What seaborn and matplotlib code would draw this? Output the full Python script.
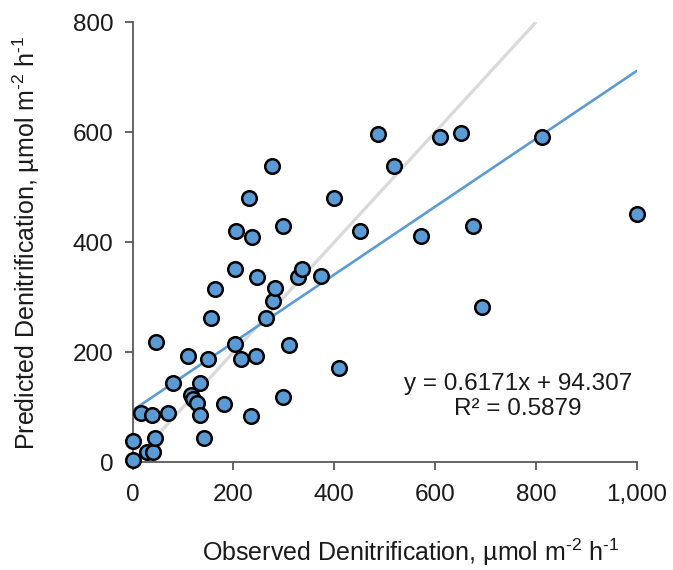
import matplotlib
matplotlib.use('Agg')
import matplotlib.pyplot as plt
import matplotlib.ticker as mticker
import seaborn as sns
import numpy as np
import pandas as pd

# observed vs predicted denitrification (umol m-2 h-1)
observed = [0, 0, 28, 41, 44, 16, 38, 70, 47, 80, 110, 115, 120, 127, 133, 133, 141,
            150, 155, 182, 204, 215, 244, 235, 264, 279, 311, 299, 410, 164, 204, 246,
            283, 328, 336, 373, 206, 237, 298, 231, 400, 276, 519, 452, 572, 486, 610,
            652, 813, 675, 693, 1000]
predicted = [5, 39, 18, 18, 45, 89, 86, 89, 219, 145, 193, 122, 115, 107, 145, 86, 44,
             188, 262, 106, 215, 188, 193, 84, 262, 294, 214, 118, 172, 315, 352, 337,
             316, 337, 352, 338, 420, 410, 429, 481, 481, 538, 538, 421, 411, 597, 592,
             599, 592, 429, 282, 452]

slope = 0.6171
intercept = 94.307
r2 = 0.5879
fit_range = [0, 1000]
one_to_one = [0, 800]

df = pd.DataFrame({'observed': observed, 'predicted': predicted})

sns.set_style('white')
plt.rcParams['font.family'] = ['Liberation Sans', 'DejaVu Sans']
plt.rcParams['mathtext.fontset'] = 'custom'
plt.rcParams['mathtext.rm'] = 'Liberation Sans'
plt.rcParams['mathtext.default'] = 'regular'

fig = plt.figure(figsize=(6.73, 5.70), dpi=100)
ax = fig.add_axes([0.197, 0.189, 0.749, 0.772])

# 1:1 line and the linear fit
ax.plot(one_to_one, one_to_one, color='#d9d9d9', linewidth=2.3, zorder=1)
fx = np.array(fit_range)
ax.plot(fx, slope * fx + intercept, color='#5b9bd5', linewidth=1.9, zorder=2)

sns.scatterplot(data=df, x='observed', y='predicted', ax=ax, s=110,
                color='#5b9bd5', edgecolor='black', linewidth=1.8,
                zorder=3, clip_on=False)

ax.set_xlim(0, 1000)
ax.set_ylim(0, 800)
ax.set_xticks([0, 200, 400, 600, 800, 1000])
ax.set_yticks([0, 200, 400, 600, 800])
ax.xaxis.set_major_formatter(mticker.StrMethodFormatter('{x:,.0f}'))

for side in ['top', 'right']:
    ax.spines[side].set_visible(False)
for side in ['left', 'bottom']:
    ax.spines[side].set_color('#595959')
    ax.spines[side].set_linewidth(1.3)
ax.tick_params(axis='both', direction='out', length=6, width=1.3, color='#595959',
               labelsize=17.5, labelcolor='#1a1a1a', pad=8, bottom=True, left=True)
ax.tick_params(axis='x', pad=10)

ax.set_xlabel('Observed Denitrification, µmol m$^{‐2}$ h$^{‐1}$', fontsize=18,
              color='#1a1a1a')
ax.xaxis.set_label_coords(0.552, -0.168)
ax.set_ylabel('Predicted Denitrification, µmol m$^{‐2}$ h$^{‐1}$', fontsize=18,
              color='#1a1a1a', labelpad=22)

ax.text(0.765, 0.178, f'y = {slope}x + {intercept}', transform=ax.transAxes,
        ha='center', va='center', fontsize=17.5, color='#1a1a1a')
ax.text(0.765, 0.12, f'R² = {r2}', transform=ax.transAxes,
        ha='center', va='center', fontsize=17.5, color='#1a1a1a')

fig.savefig('out.png', dpi=100)
